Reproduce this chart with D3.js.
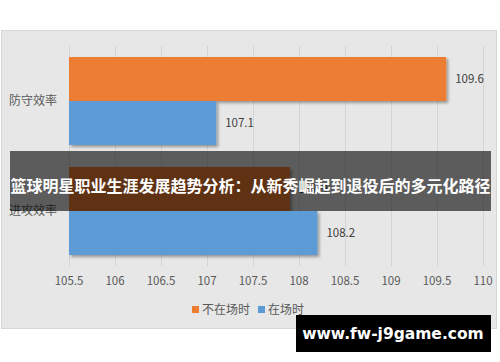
<!DOCTYPE html>
<html>
<head>
<meta charset="utf-8">
<script src="https://cdn.jsdelivr.net/npm/d3@7"></script>
<style>
  body { margin: 0; background: #fff; }
  svg { display: block; }
</style>
</head>
<body>
<svg id="vis"></svg>
<script>
const svg = d3.select("#vis").attr("width", 500).attr("height", 362);

const categories = ["防守效率", "进攻效率"];
const seriesNames = ["不在场时", "在场时"];
const offCourt = [109.6, 107.9];
const onCourt = [107.1, 108.2];
const ticks = [105.5, 106, 106.5, 107, 107.5, 108, 108.5, 109, 109.5, 110];

const COLORS = ["#ed7d31", "#5b9bd5"];
const FONT = "'Noto Sans CJK SC', 'Microsoft YaHei', sans-serif";

let xscale = d3.scaleLinear().domain([105.5, 110]).range([69, 483]);
let yscale = d3.scaleBand().domain(categories).range([46, 266]);
let inner = d3.scaleBand().domain(seriesNames).range([0, yscale.bandwidth()]).paddingOuter(0.25);

function main() {
    // drop shadow for bars
    const defs = svg.append("defs");
    const f = defs.append("filter").attr("id", "shadow")
        .attr("x", "-5%").attr("y", "-20%").attr("width", "115%").attr("height", "150%");
    f.append("feDropShadow").attr("dx", 2).attr("dy", 2).attr("stdDeviation", 1.5)
        .attr("flood-color", "#000").attr("flood-opacity", 0.35);

    // chart panel
    svg.append("rect")
        .attr("x", 1.5).attr("y", 30.5).attr("width", 495).attr("height", 298)
        .attr("fill", "#e7e7e7").attr("stroke", "#d6d6d6");

    drawGrid();
    drawBars();
    drawLegend();
    drawOverlays();
}

function drawGrid() {
    svg.selectAll(".grid").data(ticks).join("line")
        .attr("class", "grid")
        .attr("x1", d => Math.round(xscale(d)) + 0.5)
        .attr("x2", d => Math.round(xscale(d)) + 0.5)
        .attr("y1", 46).attr("y2", 266)
        .attr("stroke", "#d4d4d4");

    svg.selectAll(".tick").data(ticks).join("text")
        .attr("class", "tick")
        .attr("x", d => xscale(d))
        .attr("y", 285)
        .attr("text-anchor", "middle")
        .style("font-family", FONT).style("font-size", "11.5px")
        .attr("fill", "#595959")
        .text(d => d);

    svg.selectAll(".cat").data(categories).join("text")
        .attr("class", "cat")
        .attr("x", 9)
        .attr("y", d => yscale(d) + yscale.bandwidth() / 2 + 4)
        .style("font-family", FONT).style("font-size", "12px")
        .attr("fill", "#595959")
        .text(d => d);
}

function drawBars() {
    const rows = [];
    categories.forEach((c, i) => {
        rows.push({cat: c, s: seriesNames[0], v: offCourt[i], color: COLORS[0]});
        rows.push({cat: c, s: seriesNames[1], v: onCourt[i], color: COLORS[1]});
    });
    const x0 = xscale.domain()[0];

    svg.selectAll(".bar").data(rows).join("rect")
        .attr("class", "bar")
        .attr("x", xscale(x0))
        .attr("y", d => yscale(d.cat) + inner(d.s))
        .attr("width", d => xscale(d.v) - xscale(x0))
        .attr("height", inner.bandwidth())
        .attr("fill", d => d.color)
        .attr("filter", "url(#shadow)");

    svg.selectAll(".val").data(rows).join("text")
        .attr("class", "val")
        .attr("x", d => xscale(d.v) + 9)
        .attr("y", d => yscale(d.cat) + inner(d.s) + inner.bandwidth() / 2 + 4)
        .style("font-family", FONT).style("font-size", "11.5px")
        .attr("fill", "#404040")
        .text(d => d.v);
}

function drawLegend() {
    const items = [
        {name: seriesNames[0], color: COLORS[0], x: 192},
        {name: seriesNames[1], color: COLORS[1], x: 258}
    ];
    const g = svg.selectAll(".legend").data(items).join("g")
        .attr("class", "legend")
        .attr("transform", d => `translate(${d.x},310)`);
    g.append("rect").attr("x", 0).attr("y", -4).attr("width", 7).attr("height", 7)
        .attr("fill", d => d.color);
    g.append("text").attr("x", 10).attr("y", 4)
        .style("font-family", FONT).style("font-size", "12px")
        .attr("fill", "#595959")
        .text(d => d.name);
}

function drawOverlays() {
    svg.append("rect")
        .attr("x", 10).attr("y", 151).attr("width", 481).attr("height", 60)
        .attr("fill", "#000").attr("opacity", 0.6);
    svg.append("text")
        .attr("x", 250.5).attr("y", 192)
        .attr("text-anchor", "middle")
        .style("font-family", FONT).style("font-size", "16px").style("font-weight", "bold")
        .attr("fill", "#fff")
        .text("篮球明星职业生涯发展趋势分析：从新秀崛起到退役后的多元化路径");

    svg.append("rect")
        .attr("x", 296).attr("y", 315).attr("width", 195).attr("height", 37)
        .attr("fill", "#000");
    svg.append("text")
        .attr("x", 393).attr("y", 339)
        .attr("text-anchor", "middle")
        .style("font-family", "'DejaVu Sans', sans-serif").style("font-size", "15.5px").style("font-weight", "bold")
        .attr("fill", "#fff")
        .text("www.fw-j9game.com");
}

main();
</script>
</body>
</html>
